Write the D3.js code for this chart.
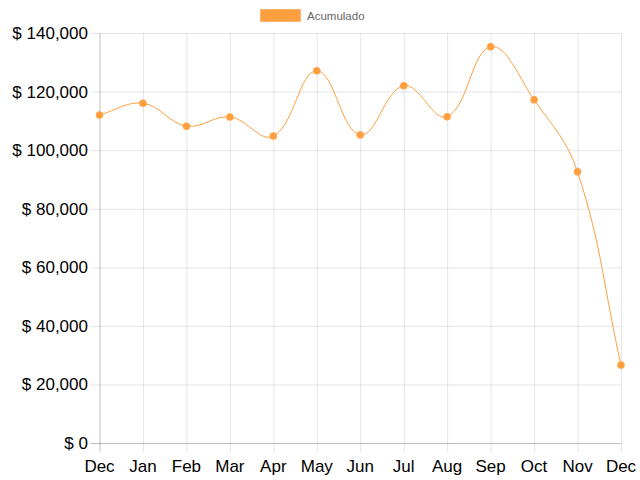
<!DOCTYPE html>
<html><head><meta charset="utf-8">
<script src="https://cdn.jsdelivr.net/npm/d3@7"></script>
<style>html,body{margin:0;padding:0;background:#fff;}svg{display:block;}</style>
</head><body><svg id="c" width="640" height="480"></svg>
<script>
const months = ["Dec","Jan","Feb","Mar","Apr","May","Jun","Jul","Aug","Sep","Oct","Nov","Dec"];
const acumulado = [112000,116000,108200,111300,104800,127100,105200,122000,111400,135300,117200,92600,26600];
const yTicks = [0,20000,40000,60000,80000,100000,120000,140000];
const seriesName = "Acumulado";

const svg = d3.select("#c");
const m = {left:99.5, right:621, top:33, bottom:443};
const x = d3.scalePoint().domain(d3.range(months.length)).range([m.left, m.right]);
const y = d3.scaleLinear().domain([0,140000]).range([m.bottom, m.top]);
const fmt = v => "$ " + d3.format(",")(v);

// horizontal grid
const gy = svg.append("g").attr("transform", `translate(${m.left},0)`)
  .call(d3.axisLeft(y).tickValues(yTicks).tickSize(-(m.right-m.left)).tickFormat(""));
gy.select(".domain").remove();
gy.selectAll(".tick line").attr("stroke","rgba(0,0,0,0.1)").attr("x2", m.right-m.left).attr("x1",-9);
gy.selectAll(".tick").filter(d=>d===0).select("line").attr("stroke","rgba(0,0,0,0.25)");
// vertical grid
const gx = svg.append("g").attr("transform", `translate(0,${m.bottom})`)
  .call(d3.axisBottom(x).tickSize(-(m.bottom-m.top)).tickFormat(""));
gx.select(".domain").remove();
gx.selectAll(".tick line").attr("stroke","rgba(0,0,0,0.1)").attr("y2", -(m.bottom-m.top)).attr("y1", 9);
gx.selectAll(".tick").filter(d=>d===0).select("line").attr("stroke","rgba(0,0,0,0.25)");

// y labels
svg.append("g").selectAll("text").data(yTicks).join("text")
  .attr("x", 88).attr("y", d=>y(d)).attr("dy","0.35em").attr("text-anchor","end")
  .attr("font-family","Liberation Sans, Arial, sans-serif").attr("font-size",17).attr("fill","#000")
  .text(fmt);
// x labels
svg.append("g").selectAll("text").data(months).join("text")
  .attr("x", (d,i)=>x(i)).attr("y", 472).attr("text-anchor","middle")
  .attr("font-family","Liberation Sans, Arial, sans-serif").attr("font-size",17).attr("fill","#000")
  .text(d=>d);

// Chart.js-like spline curve (tension 0.4)
function ChartJsCurve(context){ this._context = context; }
ChartJsCurve.prototype = {
  areaStart(){}, areaEnd(){},
  lineStart(){ this._pts = []; },
  point(px,py){ this._pts.push([px,py]); },
  lineEnd(){
    const p = this._pts, c = this._context, t = 0.4, n = p.length;
    const cps = p.map((cur,i)=>{
      const prev = p[Math.max(0,i-1)], next = p[Math.min(n-1,i+1)];
      const d01 = Math.hypot(cur[0]-prev[0], cur[1]-prev[1]);
      const d12 = Math.hypot(next[0]-cur[0], next[1]-cur[1]);
      let s01 = d01/(d01+d12), s12 = d12/(d01+d12);
      if (isNaN(s01)) s01 = 0; if (isNaN(s12)) s12 = 0;
      const fa = t*s01, fb = t*s12;
      return {
        prev:[cur[0]-fa*(next[0]-prev[0]), cur[1]-fa*(next[1]-prev[1])],
        next:[cur[0]+fb*(next[0]-prev[0]), cur[1]+fb*(next[1]-prev[1])]
      };
    });
    c.moveTo(p[0][0], p[0][1]);
    for (let i=1;i<n;i++){
      const a = cps[i-1].next, b = cps[i].prev;
      c.bezierCurveTo(a[0], Math.min(Math.max(a[1], m.top), m.bottom), b[0], Math.min(Math.max(b[1], m.top), m.bottom), p[i][0], p[i][1]);
    }
  }
};
const curve = ctx => new ChartJsCurve(ctx);

const line = d3.line().x((d,i)=>x(i)).y(d=>y(d)).curve(curve);
svg.append("path").datum(acumulado).attr("d", line)
  .attr("fill","none").attr("stroke","#ff9f40").attr("stroke-width",1);

svg.append("g").selectAll("circle").data(acumulado).join("circle")
  .attr("cx",(d,i)=>x(i)).attr("cy",d=>y(d)).attr("r",3.5)
  .attr("fill","#ff9f40").attr("stroke","rgba(255,159,64,0.6)").attr("stroke-width",1);

// legend
const lg = svg.append("g");
lg.append("rect").attr("x",260.5).attr("y",9.5).attr("width",40).attr("height",12)
  .attr("fill","#ff9f40").attr("stroke","rgba(255,180,110,1)").attr("stroke-width",1);
lg.append("text").attr("x",307).attr("y",19.5).attr("font-family","Liberation Sans, Arial, sans-serif")
  .attr("font-size",11.5).attr("fill","#666").text(seriesName);
</script></body></html>
